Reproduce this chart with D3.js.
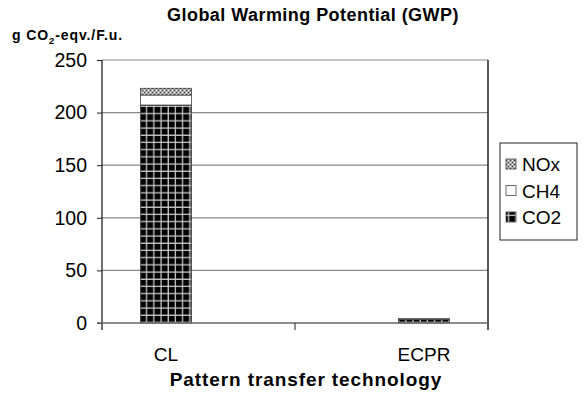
<!DOCTYPE html>
<html><head><meta charset="utf-8">
<script src="https://cdn.jsdelivr.net/npm/d3@7"></script>
<style>body{margin:0;background:#fff}svg{display:block;font-family:Arial,"Liberation Sans",sans-serif}</style>
</head><body><svg id="c" width="586" height="403"></svg>
<script>
const categories = ["CL", "ECPR"];
const seriesNames = ["CO2", "CH4", "NOx"];
const co2 = [207.2, 3.6];
const ch4 = [9.5, 0.2];
const nox = [6.4, 0.2];
const yTicks = [0, 50, 100, 150, 200, 250];

const svg = d3.select("#c");
const defs = svg.append("defs");
const p1 = defs.append("pattern").attr("id","pCO2").attr("patternUnits","userSpaceOnUse").attr("width",7.2).attr("height",7.2).attr("x",141).attr("y",0);
p1.append("rect").attr("width",7.2).attr("height",7.2).attr("fill","#000");
p1.append("rect").attr("x",5).attr("width",1.3).attr("height",7.2).attr("fill","#c8c8c8");
p1.append("rect").attr("y",5).attr("width",7.2).attr("height",1.3).attr("fill","#c8c8c8");
const p2 = defs.append("pattern").attr("id","pNOx").attr("patternUnits","userSpaceOnUse").attr("width",4).attr("height",4);
p2.append("rect").attr("width",4).attr("height",4).attr("fill","#aaa");
p2.append("rect").attr("width",1).attr("height",1).attr("fill","#333");
p2.append("rect").attr("x",2).attr("y",2).attr("width",1).attr("height",1).attr("fill","#333");
p2.append("rect").attr("x",2).attr("y",0).attr("width",1).attr("height",1).attr("fill","#fff");
p2.append("rect").attr("x",0).attr("y",2).attr("width",1).attr("height",1).attr("fill","#fff");

const fills = {CO2:"url(#pCO2)", CH4:"#fff", NOx:"url(#pNOx)"};
const L = 102, R = 488, T = 60, B = 323;
const x = d3.scalePoint().domain(categories).range([L, R]).padding(0.248);
const y = d3.scaleLinear().domain([0, 250]).range([B, T]);
const barW = 51;

svg.append("g").selectAll("line").data(yTicks.filter(d=>d>0)).join("line")
  .attr("x1",L).attr("x2",R).attr("y1",d=>y(d)).attr("y2",d=>y(d))
  .attr("stroke","#888").attr("stroke-width",1.2);
svg.append("line").attr("x1",R).attr("x2",R).attr("y1",T).attr("y2",B+7).attr("stroke","#222").attr("stroke-width",1.5);

const rows = categories.map((c,i)=>({cat:c, CO2:co2[i], CH4:ch4[i], NOx:nox[i]}));
const stack = d3.stack().keys(seriesNames)(rows);
svg.append("g").selectAll("g").data(stack).join("g")
  .attr("fill", d=>fills[d.key])
  .selectAll("rect").data(d=>d).join("rect")
  .attr("x", d=>x(d.data.cat)-barW/2).attr("width", barW)
  .attr("y", d=>y(d[1])).attr("height", d=>Math.max(0,y(d[0])-y(d[1])))
  .attr("stroke","#444").attr("stroke-width",0.8);

const ya = svg.append("g").attr("transform",`translate(${L},0)`)
  .call(d3.axisLeft(y).tickValues(yTicks).tickSize(5).tickPadding(10));
ya.select(".domain").attr("stroke","#222").attr("stroke-width",1.3).attr("d",`M0,${T}V${B+7}`);
ya.selectAll(".tick line").attr("stroke","#222");
ya.selectAll("text").attr("font-size",19.5).attr("fill","#000").attr("font-family","Arial, Liberation Sans, sans-serif");

svg.append("line").attr("x1",L-5).attr("x2",R).attr("y1",B).attr("y2",B).attr("stroke","#666").attr("stroke-width",1.5);
svg.append("g").selectAll("line").data([L+(R-L)/2]).join("line")
  .attr("x1",d=>d).attr("x2",d=>d).attr("y1",B).attr("y2",B+7).attr("stroke","#222");
svg.append("g").selectAll("text").data(categories).join("text")
  .attr("x",d=>x(d)).attr("y",361).attr("text-anchor","middle").attr("font-size",19).text(d=>d);

svg.append("text").attr("x",313).attr("y",21).attr("text-anchor","middle").attr("font-size",18).attr("font-weight","bold").attr("letter-spacing",0.45).text("Global Warming Potential (GWP)");
const yl = svg.append("text").attr("x",12).attr("y",40).attr("font-size",14).attr("font-weight","bold").attr("letter-spacing",0.9);
yl.append("tspan").text("g CO");
yl.append("tspan").attr("font-size",9.5).attr("dy",4).text("2");
yl.append("tspan").attr("dy",-4).text("-eqv./F.u.");
svg.append("text").attr("x",306).attr("y",386).attr("text-anchor","middle").attr("font-size",19).attr("font-weight","bold").attr("letter-spacing",0.9).text("Pattern transfer technology");

const lg = svg.append("g");
lg.append("rect").attr("x",500).attr("y",143).attr("width",77).attr("height",97).attr("fill","#fff").attr("stroke","#222").attr("stroke-width",1);
const legItems = ["NOx","CH4","CO2"];
lg.selectAll("g.it").data(legItems).join("g").attr("class","it")
  .attr("transform",(d,i)=>`translate(506,${164+i*26.5})`)
  .each(function(d){
    const g=d3.select(this);
    g.append("rect").attr("x",0).attr("y",-5).attr("width",10).attr("height",10).attr("fill",fills[d]).attr("stroke","#444").attr("stroke-width",0.8);
    g.append("text").attr("x",16).attr("y",7).attr("font-size",19).text(d);
  });
</script></body></html>
